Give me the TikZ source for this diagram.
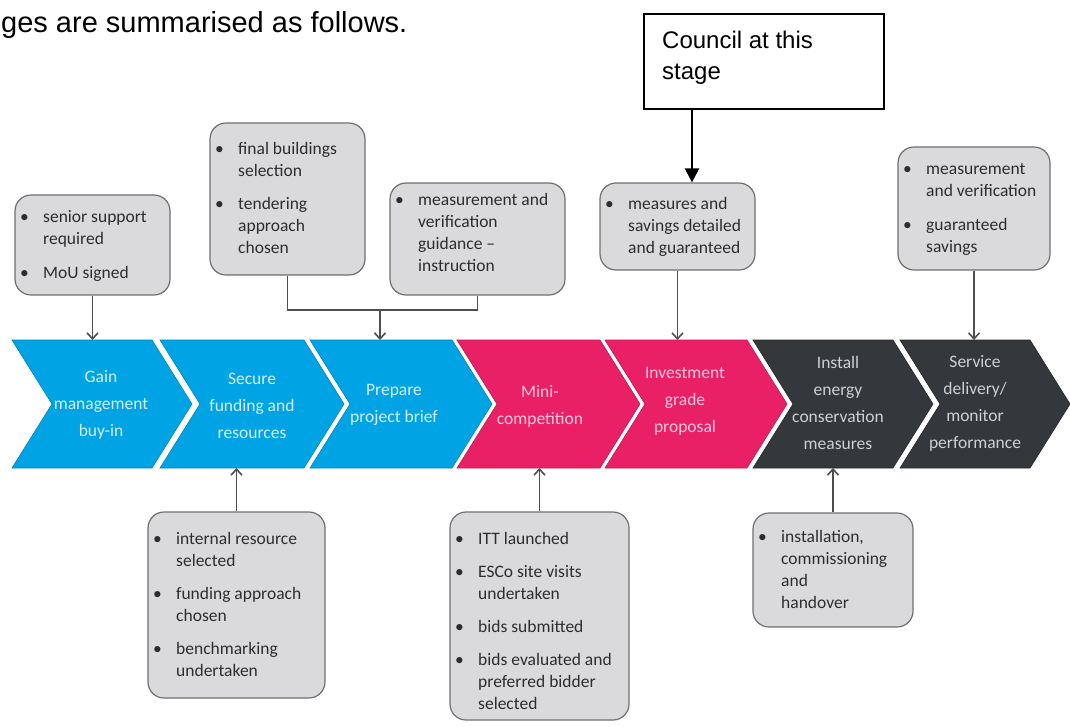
\documentclass[tikz,border=0pt]{standalone}
\usepackage{fontspec}
\setmainfont{Carlito}
\newfontfamily\arialfont{Liberation Sans}
\usetikzlibrary{arrows.meta}

\definecolor{stageblue}{RGB}{0,164,228}
\definecolor{stagepink}{RGB}{234,32,102}
\definecolor{stagedark}{RGB}{52,56,60}
\definecolor{bluetext}{RGB}{214,238,250}
\definecolor{pinktext}{RGB}{250,200,218}
\definecolor{darktext}{RGB}{205,208,212}
\definecolor{boxfill}{RGB}{218,218,220}
\definecolor{boxline}{RGB}{112,112,112}
\definecolor{boxtext}{RGB}{45,45,48}
\definecolor{linkgray}{RGB}{78,78,80}

\newcommand\bul{\makebox[23pt][l]{\textbullet}}

\begin{document}
\begin{tikzpicture}[x=1pt,y=-1pt,
  notebox/.style={draw=boxline, line width=1.2pt, fill=boxfill, rounded corners=16pt, inner sep=0pt},
  notetext/.style={anchor=north west, inner sep=0pt, text=boxtext, font=\fontsize{17.5}{22}\selectfont},
  stagetext/.style={align=center, inner sep=0pt, font=\fontsize{17.5}{27}\selectfont},
  chevline/.style={line width=0.6pt, line join=miter},
  link/.style={draw=linkgray, line width=1.8pt, -{Straight Barb[length=6pt,width=11pt,line width=1.6pt]}},
  linkplain/.style={draw=linkgray, line width=1.8pt, line join=miter},
  council/.style={draw=black, line width=1.4pt, fill=white, inner sep=0pt}
]
\useasboundingbox (0,0) rectangle (1070,726);

% reference rows
\coordinate (rowtop) at (0,340);
\coordinate (rowbot) at (0,468);

% heading line
\node[anchor=base west, inner sep=0pt, font=\arialfont\fontsize{29}{34}\selectfont] (intro) at (1,32) {ges are summarised as follows.};

% process chevrons
\filldraw[fill=stageblue, draw=stageblue!80!black, chevline] (12,340)--(152,340)--(192,404)--(152,468)--(12,468)--(52,404)--cycle;
\filldraw[fill=stageblue, draw=stageblue!80!black, chevline] (160,340)--(304,340)--(344,404)--(304,468)--(160,468)--(200,404)--cycle;
\filldraw[fill=stageblue, draw=stageblue!80!black, chevline] (310,340)--(452,340)--(492,404)--(452,468)--(310,468)--(350,404)--cycle;
\filldraw[fill=stagepink, draw=stagepink!80!black, chevline] (457,340)--(600,340)--(640,404)--(600,468)--(457,468)--(497,404)--cycle;
\filldraw[fill=stagepink, draw=stagepink!80!black, chevline] (605,340)--(747,340)--(787,404)--(747,468)--(605,468)--(645,404)--cycle;
\filldraw[fill=stagedark, draw=stagedark!70!black, chevline] (753,340)--(893,340)--(933,404)--(893,468)--(753,468)--(793,404)--cycle;
\filldraw[fill=stagedark, draw=stagedark!70!black, chevline] (900,340)--(1030,340)--(1070,404)--(1030,468)--(900,468)--(940,404)--cycle;

\node[stagetext, text=bluetext] (s1) at (101,405) {Gain\\management\\buy-in};
\node[stagetext, text=bluetext] (s2) at (252,406) {Secure\\funding and\\resources};
\node[stagetext, text=bluetext] (s3) at (394,405) {Prepare\\project brief};
\node[stagetext, text=pinktext] (s4) at (540,406) {Mini-\\competition};
\node[stagetext, text=pinktext] (s5) at (685,401) {Investment\\grade\\proposal};
\node[stagetext, text=darktext] (s6) at (838,403) {Install\\energy\\conservation\\measures};
\node[stagetext, text=darktext] (s7) at (975,403) {Service\\delivery/\\monitor\\performance};

% note boxes above the row
\node[notebox, minimum width=155pt, minimum height=100pt] (b1) at (92.5,245) {};
\node[notetext] (t1) at (20,206.6) {\begin{tabular}{@{}l@{}l@{}}\bul & senior support\\ & required\\[12pt] \bul & MoU signed\end{tabular}};

\node[notebox, minimum width=155pt, minimum height=152pt] (b2) at (287.5,199) {};
\node[notetext] (t2) at (215,138.6) {\begin{tabular}{@{}l@{}l@{}}\bul & final buildings\\ & selection\\[11pt] \bul & tendering\\ & approach\\ & chosen\end{tabular}};

\node[notebox, minimum width=175pt, minimum height=112pt] (b3) at (477.5,239) {};
\node[notetext] (t3) at (395,189.6) {\begin{tabular}{@{}l@{}l@{}}\bul & measurement and\\ & verification\\ & guidance --\\ & instruction\end{tabular}};

\node[notebox, minimum width=155pt, minimum height=87pt] (b4) at (677.5,226.5) {};
\node[notetext] (t4) at (605,193.6) {\begin{tabular}{@{}l@{}l@{}}\bul & measures and\\ & savings detailed\\ & and guaranteed\end{tabular}};

\node[notebox, minimum width=152pt, minimum height=123pt] (b5) at (974,208.5) {};
\node[notetext] (t5) at (903,158.6) {\begin{tabular}{@{}l@{}l@{}}\bul & measurement\\ & and verification\\[12pt] \bul & guaranteed\\ & savings\end{tabular}};

% note boxes below the row
\node[notebox, minimum width=177pt, minimum height=186pt] (b6) at (236.5,605) {};
\node[notetext] (t6) at (153,528.6) {\begin{tabular}{@{}l@{}l@{}}\bul & internal resource\\ & selected\\[11pt] \bul & funding approach\\ & chosen\\[11pt] \bul & benchmarking\\ & undertaken\end{tabular}};

\node[notebox, minimum width=179pt, minimum height=208pt] (b7) at (539.5,616) {};
\node[notetext] (t7) at (455,528.6) {\begin{tabular}{@{}l@{}l@{}}\bul & ITT launched\\[11pt] \bul & ESCo site visits\\ & undertaken\\[11pt] \bul & bids submitted\\[11pt] \bul & bids evaluated and\\ & preferred bidder\\ & selected\end{tabular}};

\node[notebox, minimum width=160pt, minimum height=114pt] (b8) at (833,570) {};
\node[notetext] (t8) at (758,526.6) {\begin{tabular}{@{}l@{}l@{}}\bul & installation,\\ & commissioning\\ & and\\ & handover\end{tabular}};

% council call-out
\node[council, minimum width=240pt, minimum height=95pt] (cb) at (764,61.5) {};
\node[anchor=north west, inner sep=0pt, align=left, font=\arialfont\fontsize{24}{31}\selectfont] (ct) at (662,31) {Council at this\\stage};
\coordinate (cbx) at (692,0);

% connectors
\draw[link] (b1.south) -- (b1.south |- rowtop);
\coordinate (joint) at (380,310);
\draw[linkplain] (b2.south) -- (b2.south |- joint) -- (b3.south |- joint) -- (b3.south);
\draw[link] (joint) -- (joint |- rowtop);
\draw[link] (b4.south) -- (b4.south |- rowtop);
\draw[link] (b5.south) -- (b5.south |- rowtop);
\draw[link] (b6.north) -- (b6.north |- rowbot);
\draw[link] (b7.north) -- (b7.north |- rowbot);
\draw[link] (b8.north) -- (b8.north |- rowbot);
\draw[black, line width=2.2pt, -{Triangle[length=14pt,width=14pt]}] (cb.south -| cbx) -- (b4.north -| cbx);
\end{tikzpicture}
\end{document}
